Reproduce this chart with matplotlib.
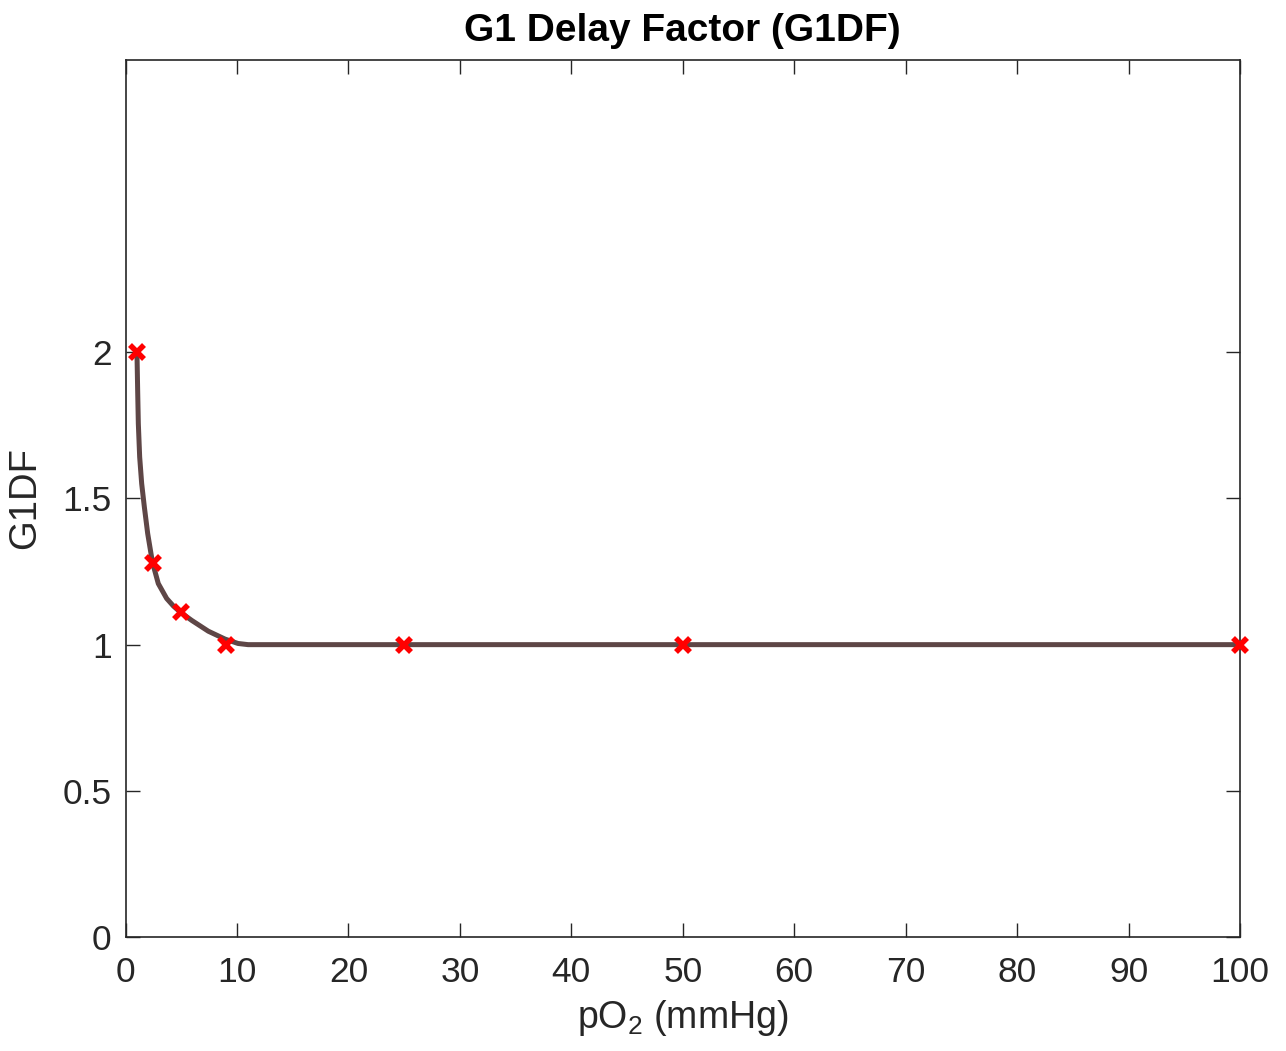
import numpy as np
import matplotlib.pyplot as plt

plt.rcParams['font.family'] = ['Liberation Sans', 'DejaVu Sans']
plt.rcParams['mathtext.fontset'] = 'custom'
plt.rcParams['mathtext.rm'] = 'Liberation Sans'

# curve
po2_curve = [1.03, 1.09, 1.15, 1.27, 1.45, 1.69, 1.99, 2.41, 2.94, 3.69, 4.3,
             4.89, 5.94, 7.43, 8.93, 10.1, 11.0, 25, 50, 100]
g1df_curve = [1.995, 1.87, 1.756, 1.642, 1.551, 1.471, 1.38, 1.283, 1.209, 1.158, 1.132,
              1.112, 1.083, 1.046, 1.019, 1.004, 1.0, 1.0, 1.0, 1.0]

# sample points (red crosses)
po2_pts = [1, 2.5, 5, 9, 25, 50, 100]
g1df_pts = [2.0, 1.28, 1.112, 1.0, 1.0, 1.0, 1.0]

xticks = np.arange(0, 101, 10)
yticks = [0, 0.5, 1, 1.5, 2]

txt = '#262626'

fig = plt.figure(figsize=(12.86, 10.51), dpi=100)
ax = fig.add_axes([0.0976, 0.1085, 0.8666, 0.8344])

ax.plot(po2_curve, g1df_curve, color='#5e4646', lw=3.6, zorder=2,
        solid_joinstyle='round')
ax.plot(po2_pts, g1df_pts, ls='none', marker='x', color='red',
        markersize=10, mew=4, zorder=3, clip_on=False)

ax.set_xlim(0, 100)
ax.set_ylim(0, 3)
ax.set_xticks(xticks)
ax.set_yticks(yticks)
ax.set_yticklabels(['0', '0.5', '1', '1.5', '2'])
ax.tick_params(direction='in', top=True, right=True, length=10, width=1,
               labelsize=25.5, colors=txt)
ax.tick_params(axis='x', pad=14)
ax.tick_params(axis='y', pad=10)
for s in ax.spines.values():
    s.set_color(txt)
    s.set_linewidth(1.2)

ax.set_title('G1 Delay Factor (G1DF)', fontsize=28, fontweight='bold',
             color='black', pad=14)
ax.set_xlabel('pO$_2$ (mmHg)', fontsize=27, color=txt, labelpad=6)
ax.set_ylabel('G1DF', fontsize=27.5, color=txt, labelpad=14)

fig.savefig('out.png', dpi=100)
